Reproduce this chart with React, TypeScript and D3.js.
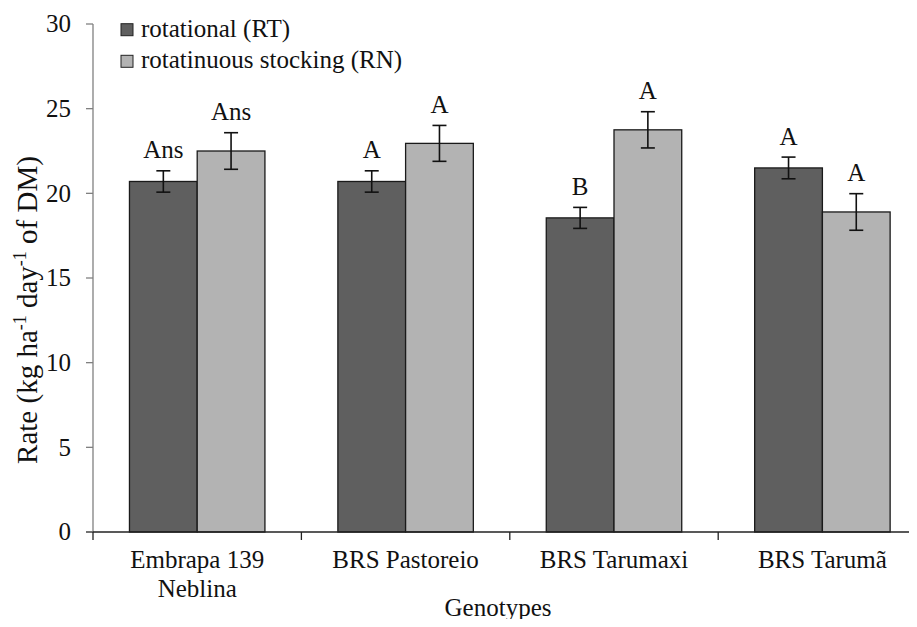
import React from 'react';
import * as d3 from 'd3';

const genotypes = ['Embrapa 139\nNeblina', 'BRS Pastoreio', 'BRS Tarumaxi', 'BRS Tarumã'];
const seriesNames = ['rotational (RT)', 'rotatinuous stocking (RN)'];
const rtValues = [20.7, 20.7, 18.55, 21.5];
const rnValues = [22.5, 22.95, 23.75, 18.9];
const rtErrors = [0.63, 0.63, 0.62, 0.64];
const rnErrors = [1.08, 1.06, 1.07, 1.08];
const rtLetters = ['Ans', 'A', 'B', 'A'];
const rnLetters = ['Ans', 'A', 'A', 'A'];
const yTicks = [0, 5, 10, 15, 20, 25, 30];

const W = 917;
const H = 627;
const COLORS = ['#5f5f5f', '#b3b3b3'];
const FS = 25;
const txt: React.CSSProperties = { fontFamily: "'Liberation Serif'", fontSize: FS, fill: '#111' };

const left = 93;
const right = 926.6;
const top = 24;
const bottom = 532;

const App: React.FC = () => {
    const x = d3.scaleBand<string>()
        .domain(genotypes)
        .range([left, right])
        .paddingInner(0.35)
        .paddingOuter(0.175);
    const xs = d3.scaleBand<string>().domain(seriesNames).range([0, x.bandwidth()]);
    const y = d3.scaleLinear().domain([0, 30]).range([bottom, top]);

    const series = [
        { vals: rtValues, errs: rtErrors, letters: rtLetters },
        { vals: rnValues, errs: rnErrors, letters: rnLetters },
    ];
    const axisColor = '#808080';

    return (
        <svg width={W} height={H} style={{ display: 'block', margin: '-8px', background: '#fff' }}>
            {/* bars, error bars, letters */}
            {series.map((s, si) =>
                genotypes.map((gen, i) => {
                    const bx = (x(gen) as number) + (xs(seriesNames[si]) as number);
                    const bw = xs.bandwidth();
                    const v = s.vals[i];
                    const cx = bx + bw / 2;
                    const hi = y(v + s.errs[i]);
                    const lo = y(v - s.errs[i]);
                    return (
                        <g key={`${si}-${i}`}>
                            <rect x={bx} y={y(v)} width={bw} height={y(0) - y(v)}
                                fill={COLORS[si]} stroke="#1a1a1a" strokeWidth={1.3} />
                            <line x1={cx} x2={cx} y1={hi} y2={lo} stroke="#111" strokeWidth={1.6} />
                            <line x1={cx - 7} x2={cx + 7} y1={hi} y2={hi} stroke="#111" strokeWidth={1.6} />
                            <line x1={cx - 7} x2={cx + 7} y1={lo} y2={lo} stroke="#111" strokeWidth={1.6} />
                            <text x={cx} y={hi - 12.5} textAnchor="middle" style={txt}>{s.letters[i]}</text>
                        </g>
                    );
                })
            )}

            {/* axes */}
            <line x1={left} x2={left} y1={top} y2={bottom} stroke={axisColor} strokeWidth={1.3} />
            <line x1={left - 7} x2={right} y1={bottom} y2={bottom} stroke="#222" strokeWidth={1.3} />
            {yTicks.map(t => (
                <g key={t}>
                    <line x1={left - 7} x2={left} y1={y(t)} y2={y(t)} stroke={axisColor} strokeWidth={1.3} />
                    <text x={left - 22} y={y(t)} dy="0.33em" textAnchor="end" style={txt}>{t}</text>
                </g>
            ))}
            {d3.range(genotypes.length).map(i => (
                <line key={i} x1={left + i * x.step()} x2={left + i * x.step()} y1={bottom} y2={bottom + 8}
                    stroke="#222" strokeWidth={1.3} />
            ))}

            {/* genotype labels */}
            {genotypes.map(gen => {
                const cx = (x(gen) as number) + x.bandwidth() / 2;
                return (
                    <text key={gen} x={cx} y={568} textAnchor="middle" style={txt}>
                        {gen.split('\n').map((ln, li) => (
                            <tspan key={li} x={cx} dy={li === 0 ? 0 : 29}>{ln}</tspan>
                        ))}
                    </text>
                );
            })}

            {/* axis titles */}
            <text x={498} y={616} textAnchor="middle" style={txt}>Genotypes</text>
            <text transform="translate(37,310) rotate(-90)" textAnchor="middle"
                style={{ ...txt, fontSize: 29 }}>
                <tspan>Rate (kg ha</tspan>
                <tspan dy={-11} style={{ fontSize: 18 }}>-1</tspan>
                <tspan dy={11}> day</tspan>
                <tspan dy={-11} style={{ fontSize: 18 }}>-1</tspan>
                <tspan dy={11}> of DM)</tspan>
            </text>

            {/* legend */}
            {seriesNames.map((name, i) => {
                const ly = 36.7 + i * 31.6;
                return (
                    <g key={name}>
                        <rect x={121} y={ly - 13} width={12} height={12} fill={COLORS[i]} stroke="#222" strokeWidth={1} />
                        <text x={141} y={ly} style={txt}>{name}</text>
                    </g>
                );
            })}
        </svg>
    );
};

export default App;
